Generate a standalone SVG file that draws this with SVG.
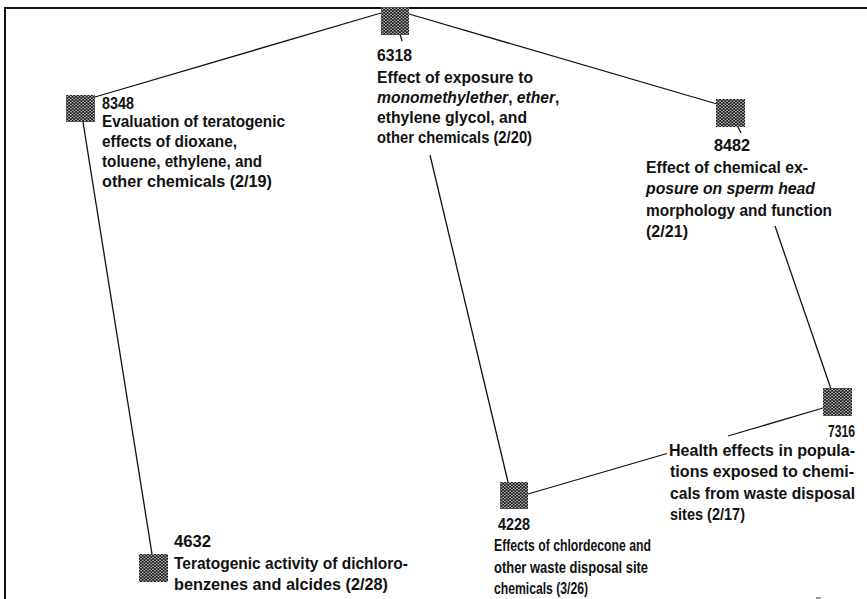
<svg xmlns="http://www.w3.org/2000/svg" width="867" height="599" viewBox="0 0 867 599">
<defs>
<pattern id="dots" width="3.5" height="3" patternUnits="userSpaceOnUse">
<rect width="3.5" height="3" fill="#111"/>
<circle cx="0.9" cy="0.75" r="0.75" fill="#fff"/>
<circle cx="2.65" cy="2.25" r="0.75" fill="#fff"/>
</pattern>
<style>
text{font-family:"Liberation Sans",Arial,sans-serif;font-weight:bold;font-size:17px;fill:#111}
.i{font-style:italic}
.sq{fill:url(#dots)}
.c{stroke:#111;stroke-width:1.3;fill:none}
.frame{stroke:#111;stroke-width:2;fill:none}
</style>
</defs>
<rect width="867" height="599" fill="#fff"/>
<g id="frame">
<path class="frame" d="M5 599 V8 H867"/>
<line x1="816" y1="598" x2="821" y2="598" stroke="#777" stroke-width="1.5"/>
</g>
<g id="connectors">
<line class="c" x1="381" y1="13" x2="95" y2="97"/>
<line class="c" x1="409" y1="14" x2="717" y2="104"/>
<line class="c" x1="430" y1="155" x2="508" y2="482"/>
<line class="c" x1="83" y1="122" x2="152" y2="554"/>
<line class="c" x1="775" y1="226" x2="831" y2="389"/>
<line class="c" x1="823" y1="408" x2="728" y2="436"/>
<line class="c" x1="667" y1="453.5" x2="528" y2="494"/>
<line class="c" x1="400" y1="34" x2="402" y2="41"/>
<line class="c" x1="738" y1="127" x2="741" y2="133"/>
</g>
<g id="n6318">
<rect class="sq" x="381" y="7" width="28" height="28"/>
<text x="377" y="61" textLength="35" lengthAdjust="spacingAndGlyphs">6318</text>
<text x="377" y="83" textLength="156" lengthAdjust="spacingAndGlyphs">Effect of exposure to</text>
<text transform="translate(377,103) scale(0.92,1)"><tspan class="i">monomethylether</tspan>, <tspan class="i">ether</tspan>,</text>
<text x="377" y="123" textLength="150" lengthAdjust="spacingAndGlyphs">ethylene glycol, and</text>
<text x="377" y="143" textLength="155" lengthAdjust="spacingAndGlyphs">other chemicals (2/20)</text>
</g>
<g id="n8348">
<rect class="sq" x="66" y="95" width="29" height="27"/>
<text x="102" y="109" textLength="32" lengthAdjust="spacingAndGlyphs">8348</text>
<text x="102" y="127" textLength="183" lengthAdjust="spacingAndGlyphs">Evaluation of teratogenic</text>
<text x="102" y="147" textLength="135" lengthAdjust="spacingAndGlyphs">effects of dioxane,</text>
<text x="102" y="167" textLength="160" lengthAdjust="spacingAndGlyphs">toluene, ethylene, and</text>
<text x="102" y="187" textLength="170" lengthAdjust="spacingAndGlyphs">other chemicals (2/19)</text>
</g>
<g id="n8482">
<rect class="sq" x="716" y="99" width="29" height="28"/>
<text x="714" y="151" textLength="36" lengthAdjust="spacingAndGlyphs">8482</text>
<text x="646" y="173" textLength="162" lengthAdjust="spacingAndGlyphs">Effect of chemical ex-</text>
<text x="646" y="194" textLength="169" lengthAdjust="spacingAndGlyphs" class="i">posure on sperm head</text>
<text x="646" y="216" textLength="186" lengthAdjust="spacingAndGlyphs">morphology and function</text>
<text x="646" y="237" textLength="42" lengthAdjust="spacingAndGlyphs">(2/21)</text>
</g>
<g id="n7316">
<rect class="sq" x="823" y="388" width="29" height="28"/>
<text x="828" y="437" textLength="27" lengthAdjust="spacingAndGlyphs">7316</text>
<text x="669" y="456" textLength="186" lengthAdjust="spacingAndGlyphs">Health effects in popula-</text>
<text x="670" y="477" textLength="184" lengthAdjust="spacingAndGlyphs">tions exposed to chemi-</text>
<text transform="translate(670,499) scale(0.92,1)">cals from waste disposal</text>
<text x="670" y="520" textLength="75" lengthAdjust="spacingAndGlyphs">sites (2/17)</text>
</g>
<g id="n4228">
<rect class="sq" x="500" y="482" width="28" height="27"/>
<text x="498" y="530" textLength="32" lengthAdjust="spacingAndGlyphs">4228</text>
<text x="494" y="551" textLength="157" lengthAdjust="spacingAndGlyphs">Effects of chlordecone and</text>
<text x="494" y="573" textLength="154" lengthAdjust="spacingAndGlyphs">other waste disposal site</text>
<text x="494" y="594" textLength="94" lengthAdjust="spacingAndGlyphs">chemicals (3/26)</text>
</g>
<g id="n4632">
<rect class="sq" x="139" y="554" width="29" height="28"/>
<text x="174" y="547" textLength="37" lengthAdjust="spacingAndGlyphs">4632</text>
<text x="174" y="569" textLength="234" lengthAdjust="spacingAndGlyphs">Teratogenic activity of dichloro-</text>
<text x="174" y="590" textLength="214" lengthAdjust="spacingAndGlyphs">benzenes and alcides (2/28)</text>
</g>
</svg>
